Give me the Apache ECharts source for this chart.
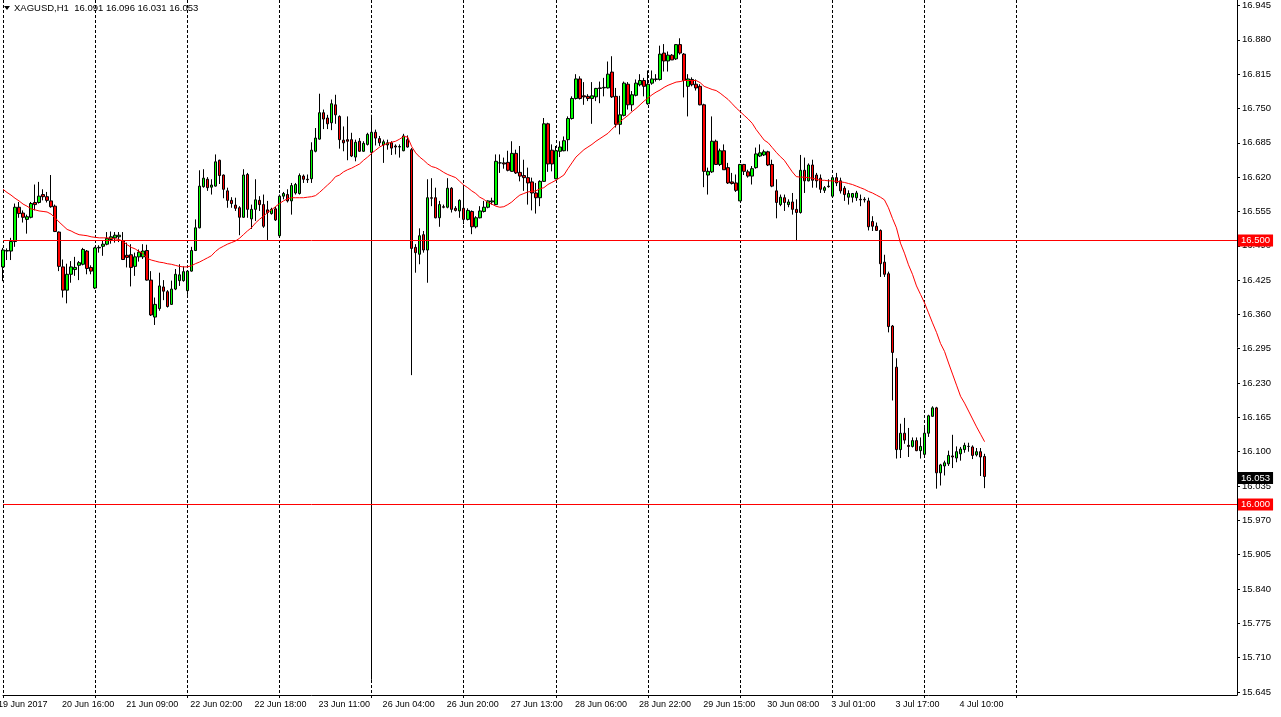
<!DOCTYPE html>
<html><head><meta charset="utf-8">
<script src="https://cdn.jsdelivr.net/npm/echarts@6/dist/echarts.min.js"></script>
<style>html,body{margin:0;padding:0;background:#fff;overflow:hidden}#c{width:1281px;height:717px}</style>
</head><body><div id="c"></div><script>
const symbolName = 'XAGUSD,H1';

const opens = [
16.450,16.480,16.480,16.498,16.563,16.552,16.540,16.544,16.572,16.572,
16.587,16.583,16.575,16.565,16.516,16.450,16.406,16.436,16.445,16.453,
16.455,16.480,16.449,16.410,16.486,16.489,16.493,16.502,16.505,16.507,
16.499,16.472,16.473,16.451,16.469,16.469,16.481,16.425,16.355,16.371,
16.412,16.403,16.379,16.408,16.424,16.424,16.405,16.442,16.481,16.524,
16.602,16.616,16.601,16.603,16.652,16.624,16.594,16.576,16.567,16.562,
16.544,16.625,16.541,16.559,16.576,16.568,16.558,16.551,16.560,16.509,
16.584,16.587,16.575,16.590,16.589,16.622,16.616,16.617,16.669,16.692,
16.742,16.732,16.723,16.757,16.735,16.690,16.691,16.691,16.658,16.688,
16.669,16.682,16.667,16.705,16.693,16.681,16.681,16.685,16.679,16.677,
16.670,16.691,16.672,16.487,16.474,16.511,16.482,16.581,16.581,16.543,
16.564,16.563,16.599,16.561,16.556,16.561,16.540,16.555,16.526,16.543,
16.555,16.563,16.573,16.568,16.647,16.647,16.648,16.631,16.665,16.629,
16.623,16.619,16.611,16.590,16.581,16.612,16.721,16.671,16.617,16.669,
16.670,16.691,16.731,16.769,16.806,16.774,16.773,16.769,16.772,16.789,
16.789,16.789,16.819,16.773,16.720,16.737,16.796,16.757,16.775,16.795,
16.803,16.759,16.798,16.806,16.805,16.855,16.840,16.851,16.844,16.871,
16.853,16.792,16.805,16.796,16.792,16.757,16.624,16.630,16.688,16.644,
16.670,16.638,16.611,16.609,16.575,16.644,16.630,16.622,16.638,16.660,
16.662,16.668,16.644,16.594,16.568,16.581,16.568,16.573,16.559,16.553,
16.633,16.613,16.643,16.624,16.618,16.595,16.603,16.584,16.619,16.613,
16.599,16.582,16.582,16.581,16.578,16.578,16.575,16.536,16.527,16.519,
16.459,16.437,16.338,16.260,16.104,16.135,16.112,16.110,16.121,16.102,
16.095,16.135,16.167,16.183,16.060,16.073,16.077,16.092,16.088,16.096,
16.104,16.110,16.109,16.094,16.100,16.091];

const highs = [
16.486,16.485,16.505,16.570,16.573,16.557,16.549,16.573,16.606,16.611,
16.597,16.592,16.624,16.568,16.517,16.464,16.456,16.461,16.469,16.461,
16.486,16.482,16.453,16.488,16.491,16.499,16.516,16.517,16.516,16.516,
16.516,16.496,16.493,16.477,16.483,16.493,16.492,16.442,16.392,16.439,
16.425,16.406,16.424,16.446,16.455,16.451,16.444,16.488,16.540,16.633,
16.635,16.620,16.616,16.663,16.653,16.625,16.600,16.582,16.581,16.565,
16.635,16.628,16.568,16.616,16.584,16.587,16.575,16.562,16.564,16.587,
16.592,16.597,16.609,16.609,16.627,16.625,16.625,16.686,16.713,16.778,
16.748,16.738,16.767,16.776,16.737,16.716,16.735,16.704,16.691,16.694,
16.688,16.704,16.738,16.710,16.698,16.691,16.691,16.688,16.682,16.682,
16.702,16.699,16.675,16.493,16.523,16.518,16.616,16.618,16.600,16.575,
16.568,16.618,16.601,16.565,16.578,16.601,16.561,16.557,16.546,16.565,
16.575,16.576,16.581,16.663,16.663,16.657,16.670,16.688,16.672,16.679,
16.653,16.638,16.619,16.609,16.614,16.732,16.723,16.682,16.679,16.688,
16.697,16.735,16.773,16.815,16.811,16.800,16.777,16.800,16.789,16.801,
16.808,16.839,16.849,16.789,16.774,16.801,16.800,16.783,16.805,16.815,
16.808,16.822,16.822,16.815,16.869,16.872,16.858,16.853,16.872,16.883,
16.855,16.815,16.809,16.805,16.796,16.759,16.638,16.735,16.691,16.674,
16.682,16.647,16.628,16.625,16.645,16.645,16.634,16.641,16.676,16.682,
16.672,16.670,16.653,16.616,16.587,16.587,16.578,16.590,16.578,16.662,
16.657,16.646,16.653,16.628,16.625,16.603,16.616,16.622,16.628,16.619,
16.603,16.595,16.590,16.594,16.587,16.582,16.581,16.546,16.534,16.521,
16.473,16.441,16.340,16.277,16.153,16.164,16.145,16.127,16.127,16.127,
16.146,16.170,16.186,16.185,16.077,16.083,16.102,16.132,16.110,16.109,
16.117,16.117,16.112,16.107,16.107,16.096];

const lows = [
16.423,16.463,16.463,16.488,16.543,16.534,16.513,16.542,16.557,16.570,
16.576,16.572,16.562,16.516,16.442,16.392,16.381,16.420,16.433,16.425,
16.453,16.436,16.436,16.408,16.477,16.471,16.491,16.494,16.496,16.497,
16.463,16.449,16.413,16.433,16.460,16.465,16.424,16.357,16.340,16.367,
16.387,16.373,16.378,16.406,16.414,16.422,16.397,16.441,16.480,16.523,
16.600,16.594,16.587,16.602,16.607,16.580,16.562,16.562,16.556,16.510,
16.543,16.543,16.522,16.537,16.556,16.524,16.501,16.549,16.537,16.505,
16.578,16.572,16.549,16.587,16.587,16.609,16.609,16.609,16.667,16.691,
16.711,16.711,16.709,16.721,16.674,16.669,16.652,16.658,16.650,16.668,
16.668,16.680,15.668,16.680,16.679,16.647,16.672,16.662,16.663,16.657,
16.669,16.676,16.245,16.439,16.455,16.477,16.420,16.565,16.542,16.526,
16.561,16.561,16.553,16.555,16.543,16.531,16.538,16.512,16.523,16.542,
16.553,16.561,16.568,16.567,16.628,16.636,16.631,16.630,16.626,16.612,
16.594,16.568,16.557,16.551,16.565,16.611,16.630,16.631,16.616,16.658,
16.669,16.669,16.729,16.767,16.767,16.757,16.764,16.721,16.764,16.760,
16.773,16.788,16.770,16.714,16.701,16.735,16.748,16.745,16.773,16.792,
16.773,16.757,16.795,16.801,16.803,16.820,16.820,16.842,16.842,16.852,
16.771,16.735,16.792,16.784,16.756,16.601,16.587,16.628,16.643,16.641,
16.634,16.607,16.606,16.592,16.575,16.624,16.619,16.606,16.636,16.658,
16.660,16.641,16.601,16.542,16.565,16.556,16.563,16.549,16.499,16.551,
16.590,16.612,16.600,16.600,16.590,16.590,16.600,16.583,16.603,16.589,
16.575,16.568,16.572,16.575,16.565,16.572,16.519,16.518,16.518,16.431,
16.431,16.326,16.197,16.087,16.088,16.115,16.090,16.108,16.101,16.087,
16.093,16.128,16.166,16.030,16.036,16.055,16.073,16.069,16.080,16.083,
16.098,16.100,16.086,16.091,16.054,16.031];

const closes = [
16.482,16.481,16.498,16.563,16.551,16.544,16.545,16.570,16.568,16.584,
16.583,16.576,16.564,16.517,16.451,16.406,16.436,16.450,16.449,16.458,
16.483,16.447,16.442,16.486,16.487,16.493,16.504,16.507,16.510,16.510,
16.464,16.468,16.449,16.469,16.478,16.480,16.425,16.359,16.379,16.414,
16.404,16.375,16.408,16.436,16.435,16.441,16.442,16.481,16.524,16.603,
16.618,16.600,16.605,16.649,16.623,16.597,16.576,16.570,16.561,16.544,
16.624,16.559,16.559,16.577,16.568,16.527,16.553,16.559,16.539,16.584,
16.589,16.575,16.604,16.606,16.623,16.616,16.615,16.671,16.694,16.742,
16.730,16.721,16.759,16.738,16.691,16.685,16.688,16.660,16.686,16.669,
16.684,16.701,16.705,16.694,16.685,16.687,16.685,16.675,16.677,16.678,
16.698,16.677,16.485,16.477,16.509,16.482,16.581,16.580,16.543,16.568,
16.563,16.599,16.559,16.557,16.576,16.540,16.557,16.526,16.543,16.556,
16.563,16.575,16.575,16.650,16.647,16.645,16.633,16.665,16.628,16.622,
16.619,16.609,16.590,16.581,16.612,16.721,16.645,16.645,16.670,16.677,
16.689,16.731,16.769,16.806,16.769,16.772,16.769,16.774,16.788,16.788,
16.790,16.815,16.772,16.720,16.738,16.798,16.757,16.776,16.798,16.803,
16.792,16.796,16.806,16.805,16.853,16.840,16.851,16.842,16.871,16.855,
16.803,16.806,16.795,16.789,16.757,16.631,16.631,16.688,16.644,16.670,
16.634,16.609,16.608,16.595,16.644,16.631,16.622,16.636,16.664,16.666,
16.668,16.643,16.603,16.572,16.582,16.572,16.573,16.559,16.553,16.633,
16.613,16.643,16.614,16.613,16.597,16.600,16.602,16.619,16.609,16.594,
16.587,16.589,16.589,16.590,16.577,16.577,16.526,16.527,16.519,16.456,
16.436,16.337,16.288,16.104,16.135,16.122,16.110,16.121,16.102,16.110,
16.135,16.168,16.183,16.060,16.075,16.079,16.093,16.090,16.100,16.105,
16.112,16.110,16.093,16.100,16.090,16.053];

const movingAverage = [
16.597,16.591,16.586,16.580,16.575,16.569,16.565,16.560,16.558,16.556,
16.555,16.554,16.550,16.543,16.535,16.528,16.521,16.518,16.514,16.511,
16.510,16.509,16.507,16.506,16.505,16.505,16.505,16.504,16.503,16.502,
16.498,16.492,16.487,16.484,16.479,16.475,16.466,16.463,16.461,16.459,
16.458,16.456,16.455,16.453,16.451,16.450,16.450,16.452,16.456,16.459,
16.463,16.467,16.471,16.479,16.485,16.489,16.493,16.496,16.499,16.504,
16.511,16.518,16.524,16.533,16.540,16.546,16.553,16.558,16.564,16.570,
16.575,16.579,16.581,16.581,16.581,16.581,16.582,16.583,16.585,16.591,
16.598,16.605,16.612,16.621,16.624,16.630,16.634,16.637,16.641,16.645,
16.652,16.658,16.665,16.671,16.677,16.681,16.684,16.686,16.688,16.692,
16.697,16.696,16.678,16.666,16.658,16.652,16.645,16.640,16.638,16.634,
16.629,16.625,16.622,16.619,16.612,16.605,16.600,16.594,16.589,16.582,
16.578,16.572,16.569,16.565,16.563,16.564,16.568,16.573,16.580,16.586,
16.589,16.592,16.593,16.594,16.598,16.600,16.606,16.610,16.614,16.619,
16.624,16.636,16.647,16.658,16.665,16.672,16.677,16.682,16.688,16.693,
16.698,16.703,16.711,16.718,16.725,16.731,16.737,16.744,16.750,16.757,
16.764,16.770,16.776,16.781,16.785,16.790,16.794,16.797,16.800,16.801,
16.803,16.803,16.803,16.803,16.799,16.792,16.789,16.786,16.784,16.779,
16.773,16.767,16.759,16.751,16.744,16.737,16.730,16.722,16.710,16.700,
16.690,16.685,16.676,16.667,16.659,16.652,16.641,16.630,16.621,16.620,
16.620,16.619,16.618,16.616,16.614,16.614,16.613,16.613,16.612,16.611,
16.610,16.608,16.606,16.603,16.600,16.597,16.593,16.590,16.586,16.582,
16.577,16.562,16.542,16.524,16.495,16.476,16.454,16.436,16.414,16.398,
16.382,16.363,16.344,16.326,16.305,16.290,16.268,16.247,16.226,16.205,
16.192,16.177,16.162,16.147,16.133,16.119];

const xTickLabels = ['19 Jun 2017','20 Jun 16:00','21 Jun 09:00','22 Jun 02:00','22 Jun 18:00','23 Jun 11:00',
  '26 Jun 04:00','26 Jun 20:00','27 Jun 13:00','28 Jun 06:00','28 Jun 22:00','29 Jun 15:00',
  '30 Jun 08:00','3 Jul 01:00','3 Jul 17:00','4 Jul 10:00'];
const yTickValues = [15.645,15.710,15.775,15.840,15.905,15.970,16.035,16.100,16.165,16.230,16.295,
  16.360,16.425,16.490,16.555,16.620,16.685,16.750,16.815,16.880,16.945];
const levelLines = [16.500, 16.000];

const barsPerLabel = 16;
const barsPerSeparator = 23;
const separatorCount = 12;
const totalSlots = 309;

const categories = Array.from({length: totalSlots}, (_, i) => String(i));
const candleData = opens.map((o, i) => [o, closes[i], lows[i], highs[i]]);
const last = opens.length - 1;
const FONT = 'Liberation Sans';
const isSeparator = (i) => i % barsPerSeparator === 0 && i / barsPerSeparator < separatorCount;

const chart = echarts.init(document.getElementById('c'), null, {renderer: 'canvas'});
chart.setOption({
  animation: false,
  backgroundColor: '#ffffff',
  grid: {left: 3, right: 44, top: 0, bottom: 22, containLabel: false, outerBoundsMode: 'none'},
  xAxis: {
    type: 'category', data: categories, boundaryGap: false,
    axisLine: {show: true, onZero: false, lineStyle: {color: '#000', width: 1}},
    axisTick: {show: true, length: 3, interval: isSeparator, lineStyle: {color: '#000'}},
    axisLabel: {
      show: true, interval: (i) => i % barsPerLabel === 0 && i / barsPerLabel < xTickLabels.length,
      formatter: (v, i) => xTickLabels[Math.round(Number(v) / barsPerLabel)] || '',
      align: 'left', color: '#000', fontSize: 9, fontFamily: FONT, margin: 5, padding: [0, 0, 0, -5]
    },
    splitLine: {show: true, interval: isSeparator, lineStyle: {color: '#000', width: 1, type: [3, 2]}}
  },
  yAxis: {
    type: 'value', position: 'right', min: 15.6392, max: 16.95549, scale: true,
    axisLine: {show: true, lineStyle: {color: '#000', width: 1}},
    axisTick: {show: true, length: 3, customValues: yTickValues, lineStyle: {color: '#000'}},
    axisLabel: {show: true, customValues: yTickValues, formatter: (v) => Number(v).toFixed(3),
      color: '#000', fontSize: 9.5, fontFamily: FONT, margin: 5},
    splitLine: {show: false}
  },
  series: [
    {
      type: 'candlestick', data: candleData, barWidth: 3,
      itemStyle: {color: '#00FF00', color0: '#FF0000', borderColor: '#000000', borderColor0: '#000000', borderWidth: 1}
    },
    {
      type: 'line', data: movingAverage, showSymbol: false, symbol: 'none',
      lineStyle: {color: '#FF0000', width: 1}, z: 3,
      markLine: {
        silent: true, symbol: 'none', animation: false, z: 10,
        lineStyle: {color: '#FF0000', width: 1, type: 'solid'},
        emphasis: {disabled: true},
        data: [
          ...levelLines.map(v => ({yAxis: v,
            label: {show: true, position: 'end', distance: 1, formatter: v.toFixed(3), color: '#fff',
              backgroundColor: '#FF0000', padding: [1, 3, 1, 3], fontSize: 9.5, fontFamily: FONT}})),
          {yAxis: closes[last], lineStyle: {color: 'rgba(0,0,0,0)'},
            label: {show: true, position: 'end', distance: 1, formatter: closes[last].toFixed(3), color: '#fff',
              backgroundColor: '#000000', padding: [1, 3, 1, 3], fontSize: 9.5, fontFamily: FONT}}
        ]
      }
    }
  ],
  graphic: [
    {type: 'polygon', shape: {points: [[4, 6], [10, 6], [7, 10]]}, style: {fill: '#000'}},
    {type: 'text', left: 14, top: 3, style: {
      text: symbolName + '  ' + [opens[last], highs[last], lows[last], closes[last]].map(v => v.toFixed(3)).join(' '),
      fill: '#000', font: '9.5px ' + FONT}}
  ]
});
</script></body></html>
